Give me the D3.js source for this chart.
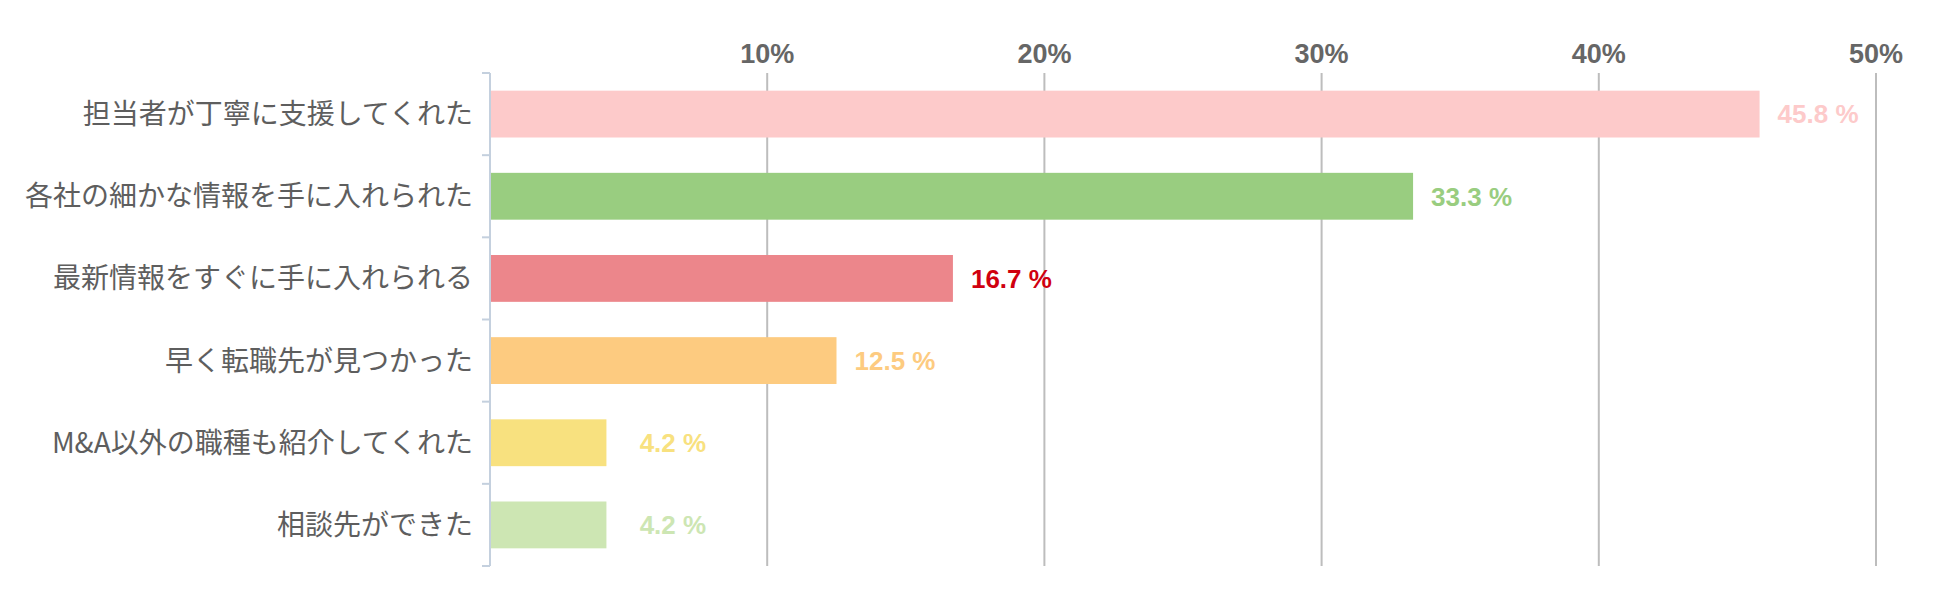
<!DOCTYPE html>
<html><head><meta charset="utf-8">
<script src="https://cdn.jsdelivr.net/npm/d3@7"></script>
<style>
html,body{margin:0;padding:0;background:#fff;}
svg{display:block;}
</style></head>
<body>
<svg id="chart" width="1934" height="611"></svg>
<script>
const categories = ["担当者が丁寧に支援してくれた","各社の細かな情報を手に入れられた","最新情報をすぐに手に入れられる","早く転職先が見つかった","M&A以外の職種も紹介してくれた","相談先ができた"];
const values = [45.8, 33.3, 16.7, 12.5, 4.2, 4.2];
const barColors = ["#fdcaca","#99cd80","#ec868b","#fdcb80","#f8e17f","#cde6b3"];
const labelColors = ["#fdcaca","#99cd80","#d0000f","#fdcb80","#f8e17f","#cde6b3"];
const xTicks = [10, 20, 30, 40, 50];
const xTickLabels = ["10%","20%","30%","40%","50%"];

(function(){
const svg = d3.select("#chart");
const mLeft = 490, mRight = 1876, mTop = 73, mBottom = 566;
const x = d3.scaleLinear().domain([0, 50]).range([mLeft, mRight]);
const y = d3.scaleBand().domain(categories).range([mTop, mBottom]).paddingInner(0).paddingOuter(0);
const bw = y.bandwidth();

// gridlines
svg.append("g").selectAll("line").data(xTicks).join("line")
  .attr("x1", d => x(d)).attr("x2", d => x(d))
  .attr("y1", mTop).attr("y2", mBottom)
  .attr("stroke", "#bdbdbd").attr("stroke-width", 2);

// x tick labels
svg.append("g").selectAll("text").data(xTicks).join("text")
  .attr("x", d => x(d)).attr("y", 63)
  .attr("text-anchor", "middle")
  .attr("font-family", "'Liberation Sans', Arial, sans-serif")
  .attr("font-weight", "bold").attr("font-size", 27)
  .attr("fill", "#666")
  .text((d, i) => xTickLabels[i]);

// bars
svg.append("g").selectAll("rect").data(values).join("rect")
  .attr("x", x(0))
  .attr("y", (d, i) => y(categories[i]) + bw * 0.215)
  .attr("width", d => x(d) - x(0))
  .attr("height", bw * 0.57)
  .attr("fill", (d, i) => barColors[i]);

// value labels
const minLabelPos = 4.75;
svg.append("g").selectAll("text").data(values).join("text")
  .attr("x", d => x(Math.max(d, minLabelPos)) + 18)
  .attr("y", (d, i) => y(categories[i]) + bw / 2)
  .attr("dy", "0.36em")
  .attr("font-family", "'Liberation Sans', Arial, sans-serif")
  .attr("font-weight", "bold").attr("font-size", 26)
  .attr("fill", (d, i) => labelColors[i])
  .text(d => d.toFixed(1) + " %");

// y axis line and ticks
const ax = svg.append("g");
ax.append("line").attr("x1", mLeft).attr("x2", mLeft).attr("y1", mTop).attr("y2", mBottom)
  .attr("stroke", "#c4d0de").attr("stroke-width", 2);
const bounds = categories.map(c => y(c)).concat([mBottom]);
ax.selectAll("line.tk").data(bounds).join("line").attr("class", "tk")
  .attr("x1", mLeft - 8).attr("x2", mLeft)
  .attr("y1", d => d).attr("y2", d => d)
  .attr("stroke", "#c4d0de").attr("stroke-width", 2);

// category labels
svg.append("g").selectAll("text").data(categories).join("text")
  .attr("x", mLeft - 17)
  .attr("y", d => y(d) + bw / 2)
  .attr("dy", "0.36em")
  .attr("text-anchor", "end")
  .attr("font-family", "'Noto Sans CJK JP', sans-serif")
  .attr("font-size", 28)
  .attr("fill", "#5e5e5e")
  .text(d => d);
})();
</script>
</body></html>
